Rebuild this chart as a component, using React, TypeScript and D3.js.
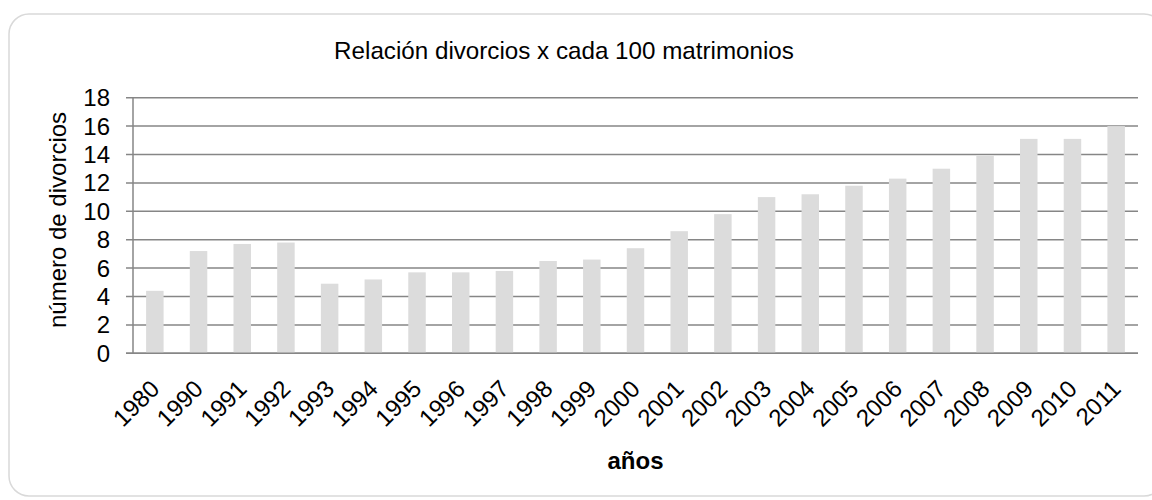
import { useMemo } from "react";
import * as d3 from "d3";

// años y relación divorcios x cada 100 matrimonios
const years = [
  "1980", "1990", "1991", "1992", "1993", "1994", "1995", "1996", "1997",
  "1998", "1999", "2000", "2001", "2002", "2003", "2004", "2005", "2006",
  "2007", "2008", "2009", "2010", "2011",
];
const ratios = [
  4.4, 7.2, 7.7, 7.8, 4.9, 5.2, 5.7, 5.7, 5.8, 6.5, 6.6, 7.4, 8.6, 9.8, 11.0,
  11.2, 11.8, 12.3, 13.0, 13.9, 15.1, 15.1, 16.0,
];
const yTicks = [0, 2, 4, 6, 8, 10, 12, 14, 16, 18];

const W = 1152;
const H = 500;
const margin = { top: 97.7, right: 14, bottom: 146.7, left: 133 };
const font = "'Liberation Sans', Arial, sans-serif";

export default function App() {
  const innerW = W - margin.left - margin.right;
  const innerH = H - margin.top - margin.bottom;

  const x = useMemo(
    () =>
      d3.scaleBand<string>()
        .domain(years)
        .range([0, innerW])
        .paddingInner(0.6)
        .paddingOuter(0.3),
    [innerW]
  );
  const y = useMemo(
    () => d3.scaleLinear().domain([0, 18]).range([innerH, 0]),
    [innerH]
  );

  const gridColor = "#868686";

  return (
    <svg
      width={W}
      height={H}
      style={{ position: "absolute", left: 0, top: 0, background: "#fff" }}
      fontFamily={font}
    >
      {/* marco redondeado */}
      <rect
        x={9}
        y={14}
        width={1155}
        height={482}
        rx={20}
        fill="#fff"
        stroke="#d9d9d9"
        strokeWidth={1.5}
      />

      <text x={564} y={59} textAnchor="middle" fontSize={24.2} fill="#000">
        Relación divorcios x cada 100 matrimonios
      </text>

      <g transform={`translate(${margin.left},${margin.top})`}>
        {/* líneas de cuadrícula */}
        {yTicks.map((t) => (
          <g key={t}>
            <line
              x1={-7}
              x2={innerW}
              y1={y(t)}
              y2={y(t)}
              stroke={gridColor}
              strokeWidth={1.5}
            />
            <text
              x={-23}
              y={y(t)}
              textAnchor="end"
              dominantBaseline="central"
              fontSize={24}
              fill="#000"
            >
              {t}
            </text>
          </g>
        ))}
        <line x1={0} x2={0} y1={0} y2={innerH} stroke={gridColor} strokeWidth={1.5} />

        {/* barras */}
        {years.map((yr, i) => (
          <rect
            key={yr}
            x={x(yr)}
            y={y(ratios[i])}
            width={x.bandwidth()}
            height={innerH - y(ratios[i])}
            fill="#dcdcdc"
          />
        ))}
        <line x1={-7} x2={innerW} y1={innerH} y2={innerH} stroke={gridColor} strokeWidth={1.5} />

        {/* etiquetas eje x */}
        {years.map((yr) => {
          const cx = (x(yr) ?? 0) + x.bandwidth() / 2 + 6;
          const cy = innerH + 37;
          return (
            <text
              key={yr}
              transform={`translate(${cx},${cy}) rotate(-45)`}
              textAnchor="end"
              fontSize={24}
              fill="#000"
            >
              {yr}
            </text>
          );
        })}
      </g>

      <text
        transform={`translate(66,220) rotate(-90)`}
        textAnchor="middle"
        fontSize={24}
        fill="#000"
      >
        número de divorcios
      </text>

      <text
        x={margin.left + innerW / 2}
        y={469}
        textAnchor="middle"
        fontSize={24}
        fontWeight="bold"
        fill="#000"
      >
        años
      </text>
    </svg>
  );
}
